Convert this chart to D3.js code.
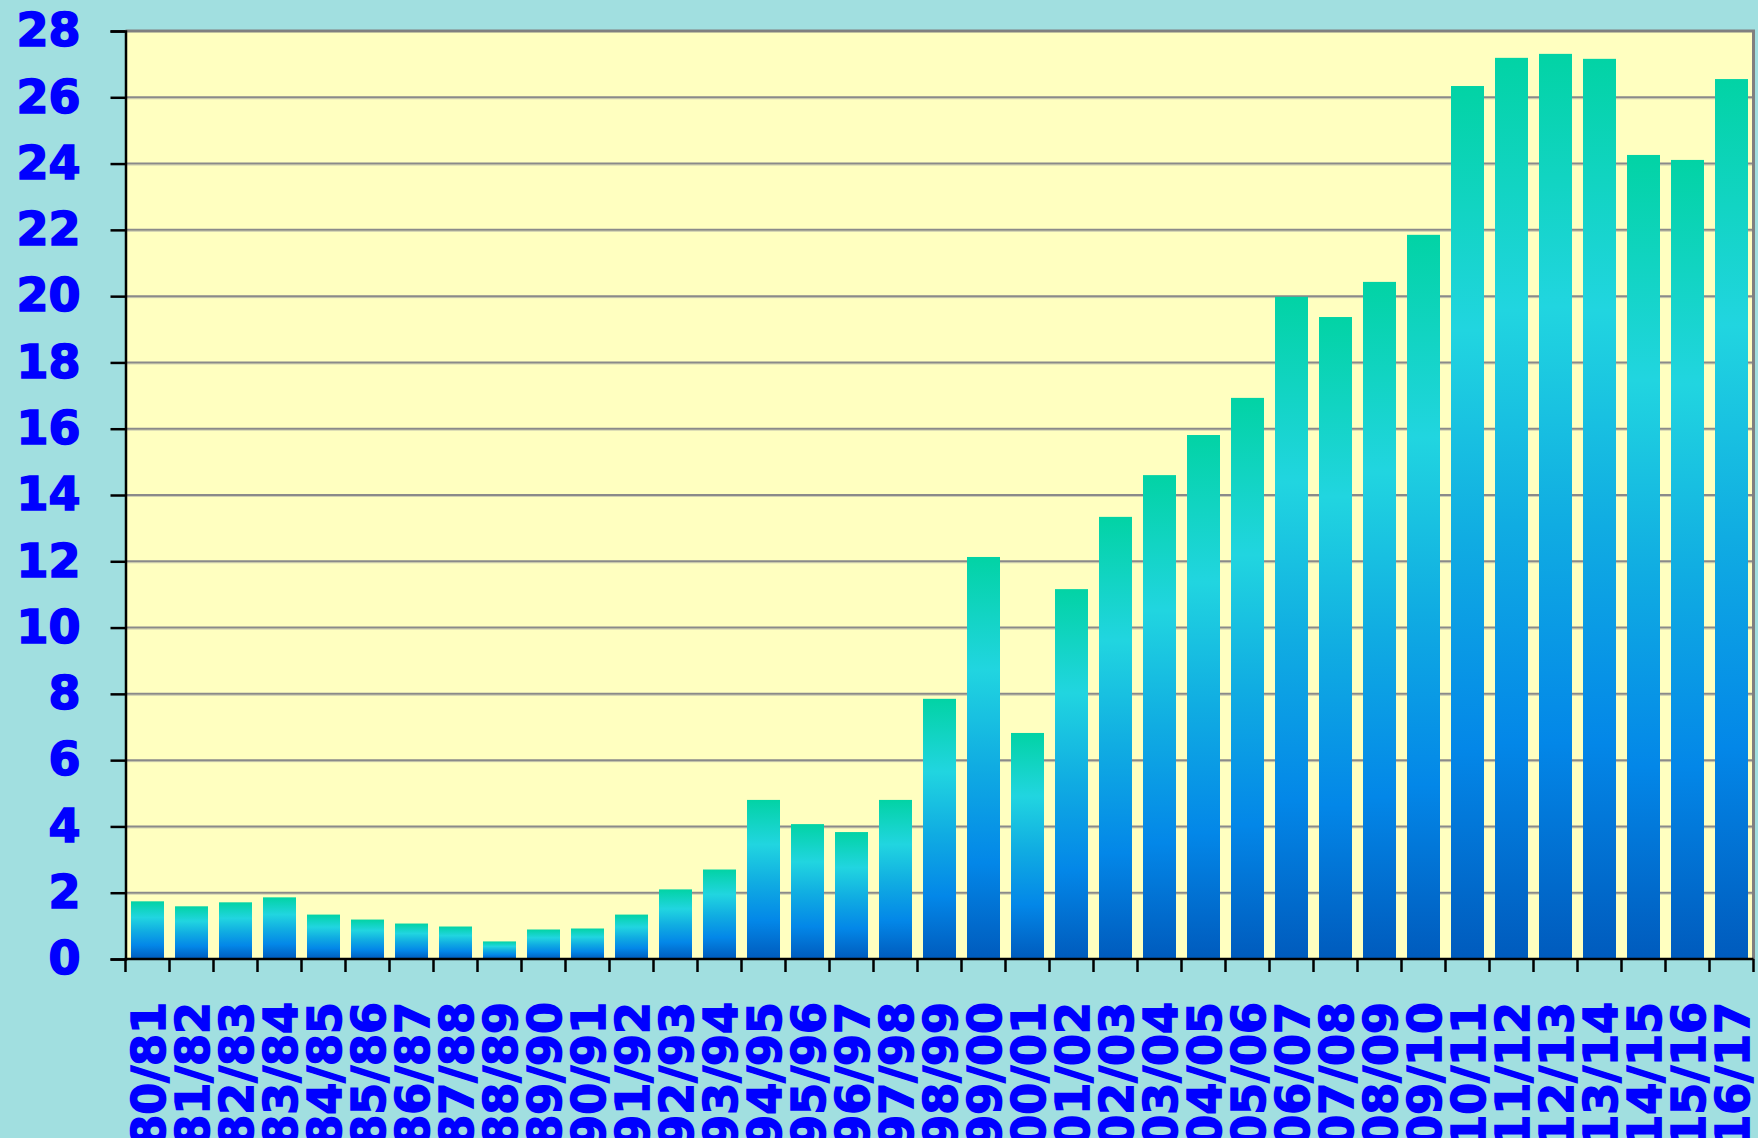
<!DOCTYPE html>
<html>
<head>
<meta charset="utf-8">
<script src="https://cdn.jsdelivr.net/npm/d3@7"></script>
<style>
  html, body { margin: 0; padding: 0; background: #a1dfe0; }
  svg { display: block; }
  text { font-family: "DejaVu Sans", Verdana, sans-serif; font-weight: bold; }
</style>
</head>
<body>
<svg id="chart" width="1758" height="1138"></svg>
<script>
// Seasons shown along the bottom axis
const seasons = [
  "80/81","81/82","82/83","83/84","84/85","85/86","86/87","87/88","88/89","89/90",
  "90/91","91/92","92/93","93/94","94/95","95/96","96/97","97/98","98/99","99/00",
  "00/01","01/02","02/03","03/04","04/05","05/06","06/07","07/08","08/09","09/10",
  "10/11","11/12","12/13","13/14","14/15","15/16","16/17"
];

// One value per season
const values = [
  1.74, 1.59, 1.71, 1.86, 1.34, 1.19, 1.07, 0.98, 0.53, 0.89,
  0.92, 1.34, 2.10, 2.70, 4.80, 4.07, 3.83, 4.80, 7.85, 12.13,
  6.82, 11.16, 13.34, 14.60, 15.81, 16.93, 19.98, 19.37, 20.43, 21.85,
  26.34, 27.19, 27.31, 27.16, 24.26, 24.11, 26.55
];

// Vertical axis ticks
const yTicks = [0, 2, 4, 6, 8, 10, 12, 14, 16, 18, 20, 22, 24, 26, 28];

const rows = seasons.map((s, i) => ({ season: s, value: values[i] }));

const plotLeft = 125.5, plotTop = 31, plotRight = 1753.5, plotBottom = 959;
const labelBlue = "#0000ff";

const svg = d3.select("#chart");

const x = d3.scaleBand()
  .domain(seasons)
  .range([plotLeft, plotRight])
  .paddingInner(0.25)
  .paddingOuter(0.125);

const y = d3.scaleLinear()
  .domain([0, 28])
  .range([plotBottom, plotTop]);

// Bar fill: green at the top, through cyan, down to deep blue
const defs = svg.append("defs");
const grad = defs.append("linearGradient")
  .attr("id", "barFill")
  .attr("x1", 0).attr("y1", 0).attr("x2", 0).attr("y2", 1);
[
  [0, "#02d3a5"],
  [0.28, "#21d5e0"],
  [0.52, "#10ace2"],
  [0.76, "#0387e8"],
  [1, "#005bbd"]
].forEach(([o, c]) => grad.append("stop").attr("offset", o).attr("stop-color", c));

// Plot background
svg.append("rect")
  .attr("x", plotLeft).attr("y", plotTop)
  .attr("width", plotRight - plotLeft).attr("height", plotBottom - plotTop)
  .attr("fill", "#ffffc0");

// Horizontal grid lines
const gridTicks = yTicks.filter(t => t > 0 && t < 28);
const grid = svg.append("g");
grid.selectAll("line.shade")
  .data(gridTicks)
  .join("line")
  .attr("class", "shade")
  .attr("x1", plotLeft).attr("x2", plotRight)
  .attr("y1", d => y(d) + 1.5).attr("y2", d => y(d) + 1.5)
  .attr("stroke", "#cfcfb0").attr("stroke-width", 1);
grid.selectAll("line.main")
  .data(gridTicks)
  .join("line")
  .attr("class", "main")
  .attr("x1", plotLeft).attr("x2", plotRight)
  .attr("y1", d => y(d)).attr("y2", d => y(d))
  .attr("stroke", "#8a8a8a").attr("stroke-width", 2);

// Top and right frame
svg.append("path")
  .attr("d", `M${plotLeft},${plotTop}H${plotRight}V${plotBottom}`)
  .attr("fill", "none")
  .attr("stroke", "#808080")
  .attr("stroke-width", 3);

// Bars
svg.append("g")
  .selectAll("rect")
  .data(rows)
  .join("rect")
  .attr("x", d => x(d.season))
  .attr("width", x.bandwidth())
  .attr("y", d => y(d.value))
  .attr("height", d => y(0) - y(d.value))
  .attr("fill", "url(#barFill)");

// Left axis
const yAxis = svg.append("g")
  .attr("transform", `translate(${plotLeft},0)`)
  .call(d3.axisLeft(y).tickValues(yTicks).tickSize(15).tickPadding(30).tickFormat(d3.format("d")));
yAxis.select(".domain").attr("stroke", "#000").attr("stroke-width", 2.5);
yAxis.selectAll(".tick line").attr("stroke", "#000").attr("stroke-width", 2.5);
yAxis.selectAll(".tick text")
  .attr("fill", labelBlue)
  .attr("stroke", labelBlue)
  .attr("stroke-width", 1.6)
  .attr("font-size", 46)
  .attr("font-family", "DejaVu Sans, Verdana, sans-serif")
  .attr("font-weight", "bold");

// Bottom axis: ticks at the band boundaries
const bounds = seasons.map(s => x(s) - x.step() * x.paddingInner() / 2)
  .concat([plotRight]);
const xAxis = svg.append("g");
xAxis.append("line")
  .attr("x1", plotLeft - 1).attr("x2", plotRight)
  .attr("y1", plotBottom).attr("y2", plotBottom)
  .attr("stroke", "#000").attr("stroke-width", 2.5);
xAxis.selectAll("line.tick")
  .data(bounds)
  .join("line")
  .attr("class", "tick")
  .attr("x1", d => d).attr("x2", d => d)
  .attr("y1", plotBottom).attr("y2", plotBottom + 13)
  .attr("stroke", "#000").attr("stroke-width", 2.5);

// Rotated season labels
xAxis.selectAll("text")
  .data(seasons)
  .join("text")
  .attr("transform", d => `translate(${x(d) + x.bandwidth() / 2 + 1.5},1002) rotate(-90)`)
  .attr("text-anchor", "end")
  .attr("dy", "0.35em")
  .attr("fill", labelBlue)
  .attr("stroke", labelBlue)
  .attr("stroke-width", 1.6)
  .attr("font-size", 46)
  .text(d => d);
</script>
</body>
</html>
